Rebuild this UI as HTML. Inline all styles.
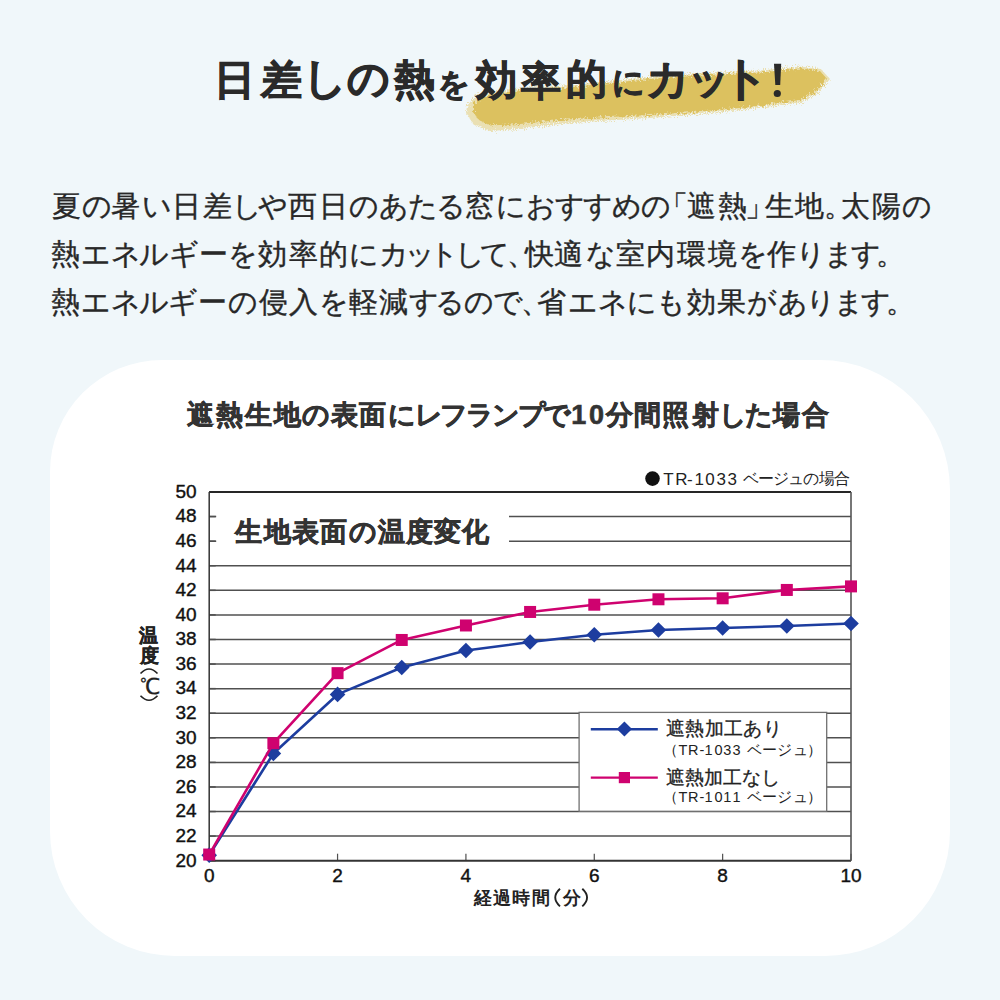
<!DOCTYPE html>
<html lang="ja">
<head>
<meta charset="utf-8">
<style>
html,body{margin:0;padding:0;}
body{width:1000px;height:1000px;overflow:hidden;position:relative;background:#f0f7fa;font-family:"Liberation Sans",sans-serif;color:#333;}
.tl{position:absolute;left:0;white-space:nowrap;}
.tl i{position:absolute;top:0;font-style:normal;}
#card{position:absolute;left:50px;top:360px;width:900px;height:596px;background:#fff;border-radius:112px 130px 125px 125px;}
.yl{position:absolute;left:146.6px;width:50px;text-align:right;font-size:19px;line-height:20px;color:#111;-webkit-text-stroke:0.4px #111;}
.xl{position:absolute;top:865.5px;width:60px;text-align:center;font-size:19px;line-height:20px;color:#111;-webkit-text-stroke:0.4px #111;}
svg{position:absolute;left:0;top:0;}
</style>
</head>
<body>
<svg width="1000" height="160">
<defs>
<filter id="rg" x="-5%" y="-30%" width="110%" height="160%"><feTurbulence type="fractalNoise" baseFrequency="0.45" numOctaves="2" seed="7"/><feDisplacementMap in="SourceGraphic" scale="7"/></filter>
<filter id="rg2" x="-5%" y="-40%" width="110%" height="180%"><feTurbulence type="fractalNoise" baseFrequency="0.9" numOctaves="1" seed="2"/><feDisplacementMap in="SourceGraphic" scale="10"/></filter>
</defs>
<path filter="url(#rg2)" d="M467,106 L476,95 L500,90.5 L520,88.5 L565,85.5 L600,82 L650,77 L700,73.5 L760,70.5 L800,66.5 L821,69 L830,79 L817,94 L802,102 L750,109 L700,114 L650,118 L600,121 L560,124 L520,129 L490,131 L474,125 L466,113 Z" fill="#e8d796" opacity="0.7"/>
<path filter="url(#rg)" d="M473,104 L480,98 L500,93 L520,91 L565,88 L600,84 L650,79 L700,75.5 L760,72.5 L800,68.5 L820,71 L827,79 L815,92 L800,100 L750,107 L700,111.5 L650,115 L600,117.5 L560,120 L520,124 L490,125.5 L479,120 L473,112 Z" fill="#dcc15e"/>
</svg>
<svg width="1000" height="160"><path d="M774,63.8L781.2,63.8L780.2,85L775.3,85Z" fill="#2a2a2a"/><circle cx="777.3" cy="93.5" r="3.6" fill="#2a2a2a"/></svg>
<div class="tl" style="top:0;font-size:42px;font-weight:bold;-webkit-text-stroke:0.9px #2a2a2a;line-height:1;color:#2a2a2a;"><i style="left:214.2px;top:60.2px;font-size:41.4px">日</i><i style="left:260.5px;top:60.4px;font-size:40.6px">差</i><i style="left:303.2px;top:56.7px;font-size:43.4px">し</i><i style="left:346.8px;top:58.0px;font-size:42.0px">の</i><i style="left:394.4px;top:59.5px;font-size:40.6px">熱</i><i style="left:437.6px;top:68.5px;font-size:30.5px">を</i><i style="left:475.8px;top:60.4px;font-size:40.9px">効</i><i style="left:521.2px;top:61.4px;font-size:40.0px">率</i><i style="left:566.3px;top:58.9px;font-size:41.3px">的</i><i style="left:612.2px;top:67.4px;font-size:31.9px">に</i><i style="left:646.0px;top:57.6px;font-size:42.6px">カ</i><i style="left:688.0px;top:58.9px;font-size:41.0px">ッ</i><i style="left:722.2px;top:55.4px;font-size:46.3px">ト</i></div>

<div class="tl" style="top:192.0px;font-size:28.5px;color:#282828;-webkit-text-stroke:0.35px #282828;line-height:1;"><i style="left:51.5px">夏</i><i style="left:81.7px">の</i><i style="left:111.3px">暑</i><i style="left:142.0px">い</i><i style="left:172.1px">日</i><i style="left:202.8px">差</i><i style="left:232.0px">し</i><i style="left:258.2px">や</i><i style="left:288.1px">西</i><i style="left:318.8px">日</i><i style="left:348.5px">の</i><i style="left:379.2px">あ</i><i style="left:408.0px">た</i><i style="left:435.8px">る</i><i style="left:465.4px">窓</i><i style="left:495.6px">に</i><i style="left:525.7px">お</i><i style="left:554.7px">す</i><i style="left:582.6px">す</i><i style="left:611.9px">め</i><i style="left:641.0px">の</i><i style="left:659.1px">「</i><i style="left:686.8px">遮</i><i style="left:717.5px">熱</i><i style="left:745.3px">」</i><i style="left:764.5px">生</i><i style="left:794.7px">地</i><i style="left:824.4px">。</i><i style="left:841.1px">太</i><i style="left:872.3px">陽</i><i style="left:902.0px">の</i></div>
<div class="tl" style="top:239.8px;font-size:28.5px;color:#282828;-webkit-text-stroke:0.35px #282828;line-height:1;"><i style="left:51.1px">熱</i><i style="left:81.3px">エ</i><i style="left:111.4px">ネ</i><i style="left:139.4px">ル</i><i style="left:168.7px">ギ</i><i style="left:198.5px">ー</i><i style="left:228.3px">を</i><i style="left:257.8px">効</i><i style="left:288.5px">率</i><i style="left:318.7px">的</i><i style="left:349.0px">に</i><i style="left:378.6px">カ</i><i style="left:404.7px">ッ</i><i style="left:428.5px">ト</i><i style="left:454.8px">し</i><i style="left:480.0px">て</i><i style="left:506.9px">、</i><i style="left:524.6px">快</i><i style="left:554.4px">適</i><i style="left:586.1px">な</i><i style="left:615.8px">室</i><i style="left:646.1px">内</i><i style="left:677.3px">環</i><i style="left:707.6px">境</i><i style="left:737.8px">を</i><i style="left:767.3px">作</i><i style="left:796.0px">り</i><i style="left:823.7px">ま</i><i style="left:851.1px">す</i><i style="left:875.5px">。</i></div>
<div class="tl" style="top:288.1px;font-size:28.5px;color:#282828;-webkit-text-stroke:0.35px #282828;line-height:1;"><i style="left:50.8px">熱</i><i style="left:81.0px">エ</i><i style="left:111.1px">ネ</i><i style="left:139.1px">ル</i><i style="left:168.4px">ギ</i><i style="left:198.2px">ー</i><i style="left:227.9px">の</i><i style="left:258.6px">侵</i><i style="left:289.3px">入</i><i style="left:319.1px">を</i><i style="left:348.5px">軽</i><i style="left:379.2px">減</i><i style="left:409.0px">す</i><i style="left:435.3px">る</i><i style="left:464.4px">の</i><i style="left:492.6px">で</i><i style="left:520.9px">、</i><i style="left:537.1px">省</i><i style="left:567.8px">エ</i><i style="left:597.9px">ネ</i><i style="left:626.9px">に</i><i style="left:655.5px">も</i><i style="left:686.6px">効</i><i style="left:716.8px">果</i><i style="left:747.1px">が</i><i style="left:778.2px">あ</i><i style="left:806.0px">り</i><i style="left:833.7px">ま</i><i style="left:861.1px">す</i><i style="left:885.5px">。</i></div>
<div id="card"></div>
<div class="tl" style="top:401.8px;font-size:27px;font-weight:bold;-webkit-text-stroke:0.6px #333;line-height:1;"><i style="left:187.1px">遮</i><i style="left:216.3px">熱</i><i style="left:244.9px">生</i><i style="left:273.6px">地</i><i style="left:301.7px">の</i><i style="left:330.5px">表</i><i style="left:358.6px">面</i><i style="left:387.8px">に</i><i style="left:415.0px">レ</i><i style="left:440.2px">フ</i><i style="left:466.4px">ラ</i><i style="left:492.2px">ン</i><i style="left:517.6px">プ</i><i style="left:543.1px">で</i><i style="left:571.2px">1</i><i style="left:588.9px">0</i><i style="left:605.5px">分</i><i style="left:634.2px">間</i><i style="left:662.3px">照</i><i style="left:691.5px">射</i><i style="left:719.2px">し</i><i style="left:745.4px">た</i><i style="left:773.3px">場</i><i style="left:802.0px">合</i></div>
<svg width="1000" height="1000">
<line x1="209.2" y1="836.12" x2="851.0" y2="836.12" stroke="#505050" stroke-width="1.5"/>
<line x1="209.2" y1="811.54" x2="851.0" y2="811.54" stroke="#505050" stroke-width="1.5"/>
<line x1="209.2" y1="786.96" x2="851.0" y2="786.96" stroke="#505050" stroke-width="1.5"/>
<line x1="209.2" y1="762.38" x2="851.0" y2="762.38" stroke="#505050" stroke-width="1.5"/>
<line x1="209.2" y1="737.80" x2="851.0" y2="737.80" stroke="#505050" stroke-width="1.5"/>
<line x1="209.2" y1="713.22" x2="851.0" y2="713.22" stroke="#505050" stroke-width="1.5"/>
<line x1="209.2" y1="688.64" x2="851.0" y2="688.64" stroke="#505050" stroke-width="1.5"/>
<line x1="209.2" y1="664.06" x2="851.0" y2="664.06" stroke="#505050" stroke-width="1.5"/>
<line x1="209.2" y1="639.48" x2="851.0" y2="639.48" stroke="#505050" stroke-width="1.5"/>
<line x1="209.2" y1="614.90" x2="851.0" y2="614.90" stroke="#505050" stroke-width="1.5"/>
<line x1="209.2" y1="590.32" x2="851.0" y2="590.32" stroke="#505050" stroke-width="1.5"/>
<line x1="209.2" y1="565.74" x2="851.0" y2="565.74" stroke="#505050" stroke-width="1.5"/>
<line x1="209.2" y1="541.16" x2="851.0" y2="541.16" stroke="#505050" stroke-width="1.5"/>
<line x1="209.2" y1="516.58" x2="851.0" y2="516.58" stroke="#505050" stroke-width="1.5"/>
<line x1="209.2" y1="860.70" x2="215.7" y2="860.70" stroke="#505050" stroke-width="1.5"/>
<line x1="209.2" y1="836.12" x2="215.7" y2="836.12" stroke="#505050" stroke-width="1.5"/>
<line x1="209.2" y1="811.54" x2="215.7" y2="811.54" stroke="#505050" stroke-width="1.5"/>
<line x1="209.2" y1="786.96" x2="215.7" y2="786.96" stroke="#505050" stroke-width="1.5"/>
<line x1="209.2" y1="762.38" x2="215.7" y2="762.38" stroke="#505050" stroke-width="1.5"/>
<line x1="209.2" y1="737.80" x2="215.7" y2="737.80" stroke="#505050" stroke-width="1.5"/>
<line x1="209.2" y1="713.22" x2="215.7" y2="713.22" stroke="#505050" stroke-width="1.5"/>
<line x1="209.2" y1="688.64" x2="215.7" y2="688.64" stroke="#505050" stroke-width="1.5"/>
<line x1="209.2" y1="664.06" x2="215.7" y2="664.06" stroke="#505050" stroke-width="1.5"/>
<line x1="209.2" y1="639.48" x2="215.7" y2="639.48" stroke="#505050" stroke-width="1.5"/>
<line x1="209.2" y1="614.90" x2="215.7" y2="614.90" stroke="#505050" stroke-width="1.5"/>
<line x1="209.2" y1="590.32" x2="215.7" y2="590.32" stroke="#505050" stroke-width="1.5"/>
<line x1="209.2" y1="565.74" x2="215.7" y2="565.74" stroke="#505050" stroke-width="1.5"/>
<line x1="209.2" y1="541.16" x2="215.7" y2="541.16" stroke="#505050" stroke-width="1.5"/>
<line x1="209.2" y1="516.58" x2="215.7" y2="516.58" stroke="#505050" stroke-width="1.5"/>
<line x1="209.2" y1="492.00" x2="215.7" y2="492.00" stroke="#505050" stroke-width="1.5"/>
<line x1="337.56" y1="853.70" x2="337.56" y2="860.70" stroke="#505050" stroke-width="1.2"/>
<line x1="465.92" y1="853.70" x2="465.92" y2="860.70" stroke="#505050" stroke-width="1.2"/>
<line x1="594.28" y1="853.70" x2="594.28" y2="860.70" stroke="#505050" stroke-width="1.2"/>
<line x1="722.64" y1="853.70" x2="722.64" y2="860.70" stroke="#505050" stroke-width="1.2"/>
<line x1="851.00" y1="853.70" x2="851.00" y2="860.70" stroke="#505050" stroke-width="1.2"/>
<rect x="216.2" y="504.29" width="292.80" height="49.16" fill="#fff"/>
<line x1="209.2" y1="492.0" x2="851.0" y2="492.0" stroke="#262626" stroke-width="2"/>
<line x1="209.2" y1="860.70" x2="851.0" y2="860.70" stroke="#333" stroke-width="2"/>
<line x1="209.2" y1="492.0" x2="209.2" y2="860.70" stroke="#333" stroke-width="1.5"/>
<line x1="851.0" y1="492.0" x2="851.0" y2="860.70" stroke="#555" stroke-width="1.6"/>
<polyline points="209.20,855.17 273.38,753.53 337.56,694.42 401.74,667.50 465.92,650.54 530.10,642.06 594.28,634.69 658.46,630.02 722.64,628.05 786.82,625.96 851.00,623.50" fill="none" stroke="#1d3d9f" stroke-width="2.6" stroke-linejoin="round"/>
<path d="M209.20,847.37L217.00,855.17L209.20,862.97L201.40,855.17Z" fill="#1d3d9f"/>
<path d="M273.38,745.73L281.18,753.53L273.38,761.33L265.58,753.53Z" fill="#1d3d9f"/>
<path d="M337.56,686.62L345.36,694.42L337.56,702.22L329.76,694.42Z" fill="#1d3d9f"/>
<path d="M401.74,659.70L409.54,667.50L401.74,675.30L393.94,667.50Z" fill="#1d3d9f"/>
<path d="M465.92,642.74L473.72,650.54L465.92,658.34L458.12,650.54Z" fill="#1d3d9f"/>
<path d="M530.10,634.26L537.90,642.06L530.10,649.86L522.30,642.06Z" fill="#1d3d9f"/>
<path d="M594.28,626.89L602.08,634.69L594.28,642.49L586.48,634.69Z" fill="#1d3d9f"/>
<path d="M658.46,622.22L666.26,630.02L658.46,637.82L650.66,630.02Z" fill="#1d3d9f"/>
<path d="M722.64,620.25L730.44,628.05L722.64,635.85L714.84,628.05Z" fill="#1d3d9f"/>
<path d="M786.82,618.16L794.62,625.96L786.82,633.76L779.02,625.96Z" fill="#1d3d9f"/>
<path d="M851.00,615.70L858.80,623.50L851.00,631.30L843.20,623.50Z" fill="#1d3d9f"/>
<polyline points="209.20,854.55 273.38,743.21 337.56,673.15 401.74,639.97 465.92,625.47 530.10,611.95 594.28,604.70 658.46,599.29 722.64,598.31 786.82,589.95 851.00,586.39" fill="none" stroke="#cf026f" stroke-width="2.6" stroke-linejoin="round"/>
<rect x="203.20" y="848.55" width="12" height="12" fill="#cf026f"/>
<rect x="267.38" y="737.21" width="12" height="12" fill="#cf026f"/>
<rect x="331.56" y="667.15" width="12" height="12" fill="#cf026f"/>
<rect x="395.74" y="633.97" width="12" height="12" fill="#cf026f"/>
<rect x="459.92" y="619.47" width="12" height="12" fill="#cf026f"/>
<rect x="524.10" y="605.95" width="12" height="12" fill="#cf026f"/>
<rect x="588.28" y="598.70" width="12" height="12" fill="#cf026f"/>
<rect x="652.46" y="593.29" width="12" height="12" fill="#cf026f"/>
<rect x="716.64" y="592.31" width="12" height="12" fill="#cf026f"/>
<rect x="780.82" y="583.95" width="12" height="12" fill="#cf026f"/>
<rect x="845.00" y="580.39" width="12" height="12" fill="#cf026f"/>
<rect x="579.1" y="712.4" width="247.6" height="98.9" fill="#fff" stroke="#707070" stroke-width="1.3"/>
<line x1="590.8" y1="729.3" x2="657.8" y2="729.3" stroke="#1d3d9f" stroke-width="2.4"/>
<path d="M624.40,721.40L632.00,729.00L624.40,736.60L616.80,729.00Z" fill="#1d3d9f"/>
<line x1="590.8" y1="777.6" x2="657.8" y2="777.6" stroke="#cf026f" stroke-width="2.4"/>
<rect x="618.80" y="772.00" width="11.2" height="11.2" fill="#cf026f"/>
<circle cx="652.5" cy="478.6" r="7.3" fill="#111"/>
<path d="M560,888.8 Q550.5,897.6 560,906.4" fill="none" stroke="#222" stroke-width="1.9"/><path d="M582.3,888.8 Q591.8,897.6 582.3,906.4" fill="none" stroke="#222" stroke-width="1.9"/>
<path d="M140.5,673.5 Q149,664.5 157.5,673.5" fill="none" stroke="#222" stroke-width="1.6"/>
<path d="M140.5,695.8 Q149,704.8 157.5,695.8" fill="none" stroke="#222" stroke-width="1.6"/>
</svg>
<div class="yl" style="top:850.5px">20</div>
<div class="yl" style="top:825.9px">22</div>
<div class="yl" style="top:801.3px">24</div>
<div class="yl" style="top:776.8px">26</div>
<div class="yl" style="top:752.2px">28</div>
<div class="yl" style="top:727.6px">30</div>
<div class="yl" style="top:703.0px">32</div>
<div class="yl" style="top:678.4px">34</div>
<div class="yl" style="top:653.9px">36</div>
<div class="yl" style="top:629.3px">38</div>
<div class="yl" style="top:604.7px">40</div>
<div class="yl" style="top:580.1px">42</div>
<div class="yl" style="top:555.5px">44</div>
<div class="yl" style="top:531.0px">46</div>
<div class="yl" style="top:506.4px">48</div>
<div class="yl" style="top:481.8px">50</div>
<div class="xl" style="left:179.2px">0</div>
<div class="xl" style="left:307.6px">2</div>
<div class="xl" style="left:435.9px">4</div>
<div class="xl" style="left:564.3px">6</div>
<div class="xl" style="left:692.6px">8</div>
<div class="xl" style="left:821.0px">10</div>
<div class="tl" style="top:518.5px;font-size:27px;font-weight:bold;-webkit-text-stroke:0.6px #333;line-height:1;"><i style="left:235.0px">生</i><i style="left:263.5px">地</i><i style="left:292.0px">表</i><i style="left:320.0px">面</i><i style="left:348.5px">の</i><i style="left:377.5px">温</i><i style="left:406.0px">度</i><i style="left:434.0px">変</i><i style="left:462.0px">化</i></div>
<div class="tl" style="top:470.7px;font-size:17px;line-height:1;color:#222;"><i style="left:663.2px">T</i><i style="left:675.2px">R</i><i style="left:686.9px">-</i><i style="left:694.6px">1</i><i style="left:705.2px">0</i><i style="left:716.4px">3</i><i style="left:727.5px">3</i></div><div class="tl" style="top:471.0px;font-size:15.5px;line-height:1;color:#222;"><i style="left:742.5px">ベ</i><i style="left:758.1px">ー</i><i style="left:773.0px">ジ</i><i style="left:787.5px">ュ</i><i style="left:803.1px">の</i><i style="left:819.3px">場</i><i style="left:834.4px">合</i></div>
<div class="tl" style="top:720.0px;font-size:18.5px;-webkit-text-stroke:0.3px #222;line-height:1;color:#222;"><i style="left:665.7px">遮</i><i style="left:685.2px">熱</i><i style="left:705.2px">加</i><i style="left:724.2px">工</i><i style="left:743.2px">あ</i><i style="left:762.7px">り</i></div>
<div class="tl" style="top:743.4px;font-size:14.5px;line-height:1;color:#222;"><i style="left:663.2px">（</i><i style="left:678.6px">T</i><i style="left:688.1px">R</i><i style="left:699.5px">-</i><i style="left:704.6px">1</i><i style="left:714.4px">0</i><i style="left:723.2px">3</i><i style="left:732.4px">3</i><i style="left:746.5px">ベ</i><i style="left:761.9px">ー</i><i style="left:777.1px">ジ</i><i style="left:792.5px">ュ</i><i style="left:806.9px">）</i></div>
<div class="tl" style="top:768.8px;font-size:18.5px;-webkit-text-stroke:0.3px #222;line-height:1;color:#222;"><i style="left:665.7px">遮</i><i style="left:684.8px">熱</i><i style="left:704.4px">加</i><i style="left:723.0px">工</i><i style="left:742.1px">な</i><i style="left:761.2px">し</i></div>
<div class="tl" style="top:789.8px;font-size:14.5px;line-height:1;color:#222;"><i style="left:663.2px">（</i><i style="left:678.6px">T</i><i style="left:688.1px">R</i><i style="left:699.5px">-</i><i style="left:704.6px">1</i><i style="left:714.4px">0</i><i style="left:723.2px">1</i><i style="left:732.4px">1</i><i style="left:746.5px">ベ</i><i style="left:761.9px">ー</i><i style="left:777.1px">ジ</i><i style="left:792.5px">ュ</i><i style="left:806.9px">）</i></div>
<div class="tl" style="top:889.5px;font-size:17.5px;font-weight:bold;line-height:1;color:#222;"><i style="left:473.5px">経</i><i style="left:492.5px">過</i><i style="left:512.0px">時</i><i style="left:531.5px">間</i></div><div class="tl" style="top:889.5px;font-size:17.5px;font-weight:bold;line-height:1;color:#222;"><i style="left:562.7px">分</i></div>
<div class="tl" style="top:626.5px;font-size:18.5px;font-weight:bold;-webkit-text-stroke:0.4px #222;line-height:1;color:#222;"><i style="left:139.3px">温</i></div><div class="tl" style="top:647.4px;font-size:18.5px;font-weight:bold;-webkit-text-stroke:0.4px #222;line-height:1;color:#222;"><i style="left:140.2px">度</i></div>
<div class="tl" style="top:676px;left:139.5px;font-size:22px;line-height:22px;color:#222;-webkit-text-stroke:0.2px #222;">℃</div>
</body>
</html>
